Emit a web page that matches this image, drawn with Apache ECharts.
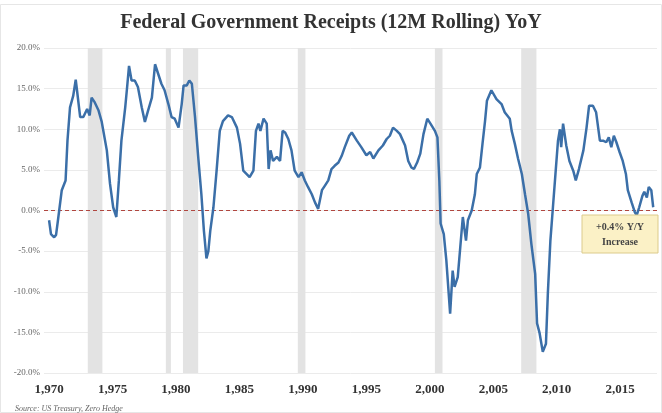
<!DOCTYPE html>
<html>
<head>
<meta charset="utf-8">
<script src="https://cdn.jsdelivr.net/npm/echarts@6/dist/echarts.min.js"></script>
<style>
html,body{margin:0;padding:0;background:#fff;}
#c{width:662px;height:413px;}
</style>
</head>
<body>
<div id="c"></div>
<script>
// ---- data ----
var years = [1970.0,1970.15,1970.4,1970.55,1970.7,1971.0,1971.3,1971.45,1971.65,1971.9,1972.1,1972.2,1972.45,1972.7,1973.0,1973.2,1973.35,1973.6,1973.9,1974.15,1974.3,1974.55,1974.8,1975.05,1975.3,1975.5,1975.7,1976.0,1976.15,1976.3,1976.5,1976.75,1977.0,1977.3,1977.55,1977.8,1978.1,1978.35,1978.6,1978.85,1979.1,1979.4,1979.65,1979.9,1980.2,1980.45,1980.6,1980.85,1981.05,1981.25,1981.5,1981.75,1982.0,1982.2,1982.4,1982.55,1982.7,1982.95,1983.2,1983.45,1983.7,1984.1,1984.4,1984.8,1985.05,1985.3,1985.55,1985.8,1986.1,1986.3,1986.5,1986.65,1986.9,1987.15,1987.3,1987.45,1987.65,1987.95,1988.2,1988.4,1988.6,1988.85,1989.1,1989.35,1989.65,1989.9,1990.15,1990.4,1990.7,1990.95,1991.2,1991.5,1991.75,1992.0,1992.25,1992.5,1992.8,1993.05,1993.3,1993.65,1993.85,1994.25,1994.6,1995.0,1995.3,1995.55,1995.95,1996.3,1996.6,1996.85,1997.1,1997.4,1997.65,1998.05,1998.3,1998.55,1998.75,1999.0,1999.25,1999.5,1999.8,2000.05,2000.4,2000.6,2000.75,2000.85,2001.1,2001.3,2001.45,2001.6,2001.8,2001.95,2002.2,2002.4,2002.6,2002.85,2003.0,2003.3,2003.55,2003.7,2003.95,2004.15,2004.35,2004.5,2004.85,2005.25,2005.65,2005.9,2006.3,2006.45,2006.7,2006.95,2007.25,2007.5,2007.75,2008.0,2008.3,2008.45,2008.65,2008.9,2009.15,2009.3,2009.5,2009.7,2009.9,2010.1,2010.25,2010.35,2010.5,2010.75,2011.0,2011.3,2011.5,2011.75,2012.1,2012.35,2012.55,2012.85,2013.1,2013.4,2013.65,2013.9,2014.1,2014.3,2014.5,2014.7,2014.95,2015.2,2015.45,2015.6,2015.9,2016.15,2016.3,2016.5,2016.75,2016.9,2017.1,2017.25,2017.45,2017.6];
var yoy = [-1.2,-2.9,-3.3,-3.0,-1.2,2.5,3.7,8.6,12.7,14.1,16.1,14.8,11.5,11.5,12.5,11.7,13.9,13.3,12.3,10.9,10.7,7.4,3.3,0.4,-0.8,3.7,8.6,12.7,15.2,17.8,16.0,16.0,15.2,12.7,10.9,12.3,13.9,18.0,16.8,15.6,14.8,13.1,11.5,11.3,10.2,13.1,15.4,15.4,16.0,15.6,11.5,6.6,2.0,-2.5,-5.9,-5.0,-2.5,0.4,4.9,9.8,11.0,11.7,11.5,10.2,8.2,4.9,4.5,4.1,4.9,9.8,10.7,9.8,11.3,10.7,5.1,7.4,6.1,6.6,6.1,9.8,9.6,8.8,7.4,4.9,4.1,4.7,3.7,2.9,2.0,1.0,0.2,2.5,3.1,3.7,5.1,5.5,5.9,6.7,7.8,9.2,9.6,8.6,7.8,6.8,7.2,6.4,7.4,8.0,8.8,9.2,10.2,9.8,9.4,8.0,6.1,5.3,5.1,5.9,7.0,9.4,11.3,10.7,9.8,9.0,3.7,-1.6,-2.9,-6.1,-9.4,-12.7,-7.4,-9.4,-8.2,-4.5,-0.8,-3.7,-1.2,0.0,2.0,4.5,5.3,8.2,11.0,13.5,14.8,13.7,13.1,12.1,11.3,9.8,8.2,6.4,4.5,2.0,-0.4,-4.1,-7.8,-13.9,-15.1,-17.4,-16.4,-10.2,-3.7,0.4,4.5,8.6,10.0,7.8,10.7,8.0,6.1,4.9,3.7,5.1,7.4,10.2,12.9,12.9,12.1,8.6,8.6,8.4,9.0,7.8,9.2,8.4,7.2,6.1,4.5,2.5,1.0,-0.2,-0.6,0.4,1.8,2.3,1.6,2.9,2.5,0.4];
var recStart = [1973.05, 1979.2, 1980.55, 1989.6, 2000.4, 2007.2];
var recEnd   = [1974.2, 1979.6, 1981.75, 1990.2, 2001.0, 2008.4];
var xTicks = [1970,1975,1980,1985,1990,1995,2000,2005,2010,2015];
var titleText = 'Federal Government Receipts (12M Rolling) YoY';
var sourceText = 'Source: US Treasury, Zero Hedge';
var noteLines = ['+0.4% Y/Y', 'Increase'];

var seriesData = years.map(function(y,i){return [y, yoy[i]];});
var areas = recStart.map(function(s,i){return [{xAxis:s},{xAxis:recEnd[i]}];});

var chart = echarts.init(document.getElementById('c'), null, {renderer:'canvas'});
chart.setOption({
  backgroundColor:'#ffffff',
  animation:false,
  title:{
    text:titleText, left:'center', top:8,
    textStyle:{fontFamily:'Liberation Serif', fontSize:20, fontWeight:'bold', color:'#333'}
  },
  grid:{left:44, right:5, top:48, bottom:40, containLabel:false},
  xAxis:{
    type:'value', min:1969.6, max:2017.9,
    axisLine:{show:false}, axisTick:{show:false}, splitLine:{show:false},
    axisLabel:{customValues:xTicks, fontFamily:'Liberation Serif', fontSize:13, fontWeight:'bold', color:'#333', margin:10}
  },
  yAxis:{
    type:'value', min:-20, max:20, interval:5,
    axisLine:{show:false}, axisTick:{show:false},
    splitLine:{lineStyle:{color:'#ebebeb', width:1}},
    axisLabel:{formatter:function(v){return v.toFixed(1)+'%';}, fontFamily:'Liberation Serif', fontSize:9, color:'#666', margin:4}
  },
  series:[{
    type:'line', data:seriesData, showSymbol:false, smooth:false,
    lineStyle:{color:'#3b6fa8', width:2.5},
    z:5,
    markArea:{silent:true, itemStyle:{color:'#e3e3e3'}, data:areas},
    markLine:{silent:true, symbol:'none', label:{show:false},
      lineStyle:{color:'#b0463f', type:[4,3], width:1.2},
      data:[{yAxis:0}]}
  }],
  graphic:[
    {type:'rect', shape:{x:0.5,y:4.5,width:661,height:408}, style:{fill:'none', stroke:'#e6e6e6', lineWidth:1}, silent:true},
    {type:'rect', shape:{x:582,y:215,width:76,height:38}, style:{fill:'#fbf1c6', stroke:'#dccb8c', lineWidth:1}, z:10},
    {type:'text', x:620, y:227, z:11, style:{text:noteLines[0], fontFamily:'Liberation Serif', fontSize:10, fontWeight:'bold', fill:'#444', align:'center', verticalAlign:'middle'}},
    {type:'text', x:620, y:242, z:11, style:{text:noteLines[1], fontFamily:'Liberation Serif', fontSize:10, fontWeight:'bold', fill:'#444', align:'center', verticalAlign:'middle'}},
    {type:'text', x:15, y:409, z:11, style:{text:sourceText, fontFamily:'Liberation Serif', fontSize:8, fontStyle:'italic', fill:'#666', align:'left', verticalAlign:'middle'}}
  ]
});
</script>
</body>
</html>
